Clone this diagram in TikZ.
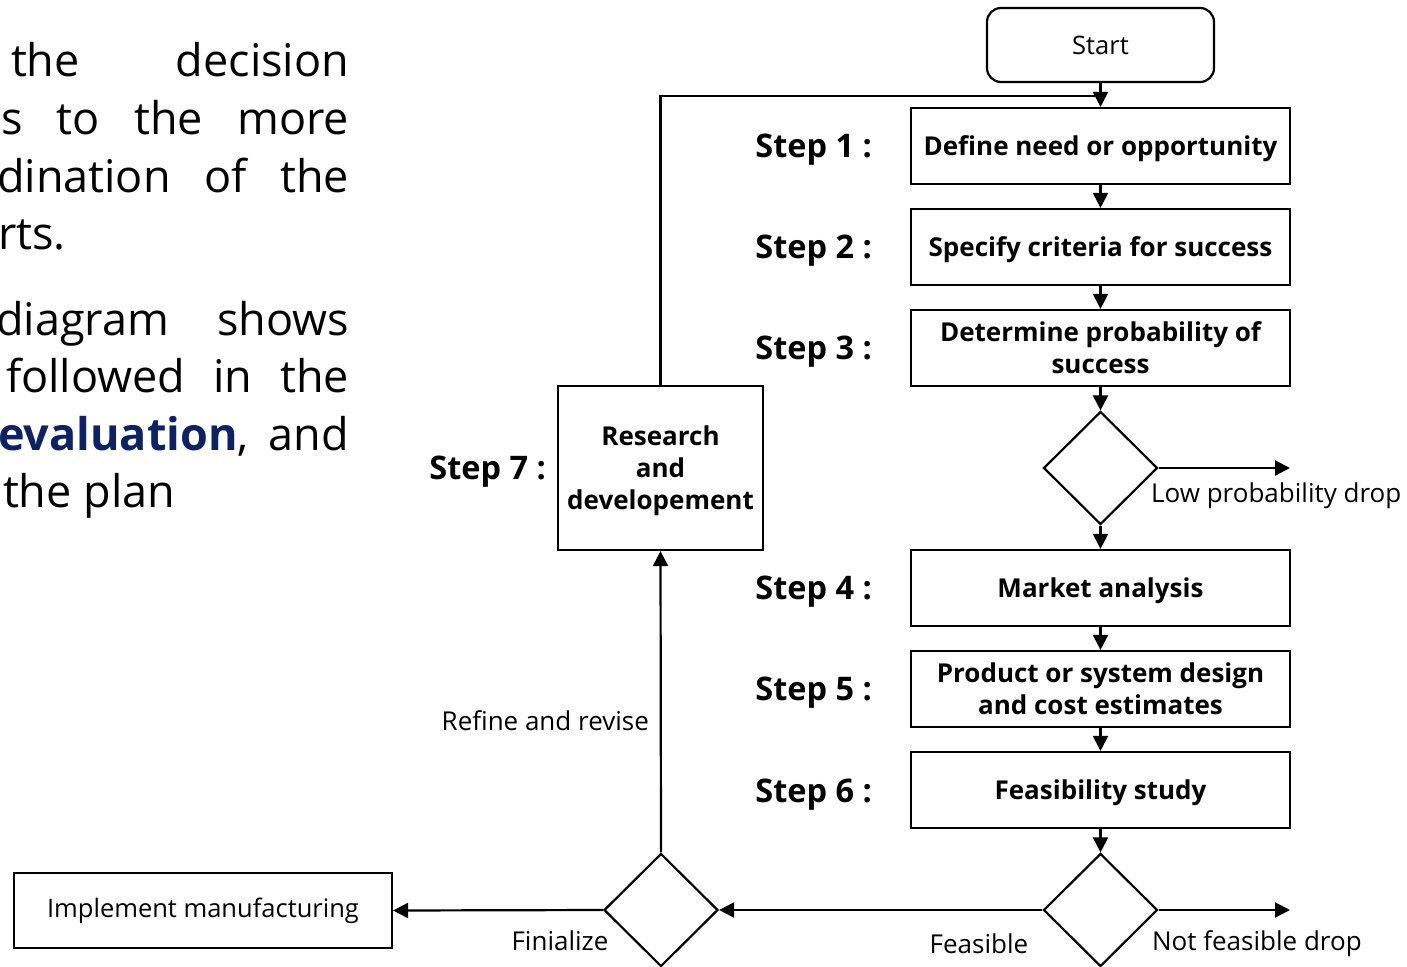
\documentclass[tikz,border=0pt]{standalone}
\usepackage{fontspec}
\setmainfont{Open Sans}
\usetikzlibrary{shapes.geometric,arrows.meta}
\definecolor{navy}{RGB}{14,34,98}
\begin{document}
\begin{tikzpicture}[x=1pt,y=-1pt,
  line width=2.2pt,
  arr/.style={-{Triangle[length=15pt,width=15pt]}},
  stepbox/.style={draw,minimum width=379pt,minimum height=76pt,inner sep=0pt,
    text depth=0pt,align=center,font=\bfseries\fontsize{26}{32}\selectfont},
  startbox/.style={draw,rounded corners=14pt,minimum width=227pt,minimum height=74pt,
    inner sep=0pt,font=\fontsize{25.5}{30}\selectfont},
  decision/.style={draw,diamond,minimum width=114pt,minimum height=113pt,inner sep=0pt},
  steplabel/.style={anchor=east,inner sep=0pt,yshift=-3pt,
    font=\bfseries\fontsize{32.5}{38}\selectfont},
  edgelabel/.style={inner sep=0pt,font=\fontsize{26}{30}\selectfont},
  bodyline/.style={anchor=base west,inner sep=0pt,font=\fontsize{45}{57}\selectfont}]
\useasboundingbox (0,0) rectangle (1407,966);
\clip (0,0) rectangle (1407,966);

% body text beside the chart
\node[bodyline] (t1) at (10,77)    {\makebox[338pt][s]{the decision}};
\node[bodyline] (t2) at (0,134.5)  {\makebox[348pt][s]{s to the more}};
\node[bodyline] (t3) at (-4,192)   {\makebox[352pt][s]{dination of the}};
\node[bodyline] (t4) at (-3,249.5) {rts.};
\node[bodyline] (t5) at (-5,335)   {\makebox[353pt][s]{diagram shows}};
\node[bodyline] (t6) at (5,392.5)  {\makebox[343pt][s]{followed in the}};
\node[bodyline] (t7) at (-3,450)   {\makebox[351pt][s]{\textcolor{navy}{\bfseries evaluation}, and}};
\node[bodyline] (t8) at (2,507.5)  {the plan};

% main column
\node[startbox] (start) at (1100.5,45) {Start};
\node[stepbox] (s1) at (1100.5,146) {Define need or opportunity};
\node[stepbox] (s2) at (1100.5,247) {Specify criteria for success};
\node[stepbox] (s3) at (1100.5,348) {Determine probability of\\success};
\node[decision] (d1) at (1100.5,468) {};
\node[stepbox] (s4) at (1100.5,588) {Market analysis};
\node[stepbox] (s5) at (1100.5,689) {Product or system design\\and cost estimates};
\node[stepbox] (s6) at (1100.5,790) {Feasibility study};
\node[decision] (d2) at (1100.5,910) {};
\node[decision] (d3) at (661,910) {};
\node[stepbox,minimum width=205pt,minimum height=164pt] (rd) at (660.5,468)
  {Research\\and\\developement};
\node[draw,minimum width=378pt,minimum height=75pt,inner sep=0pt,
  font=\fontsize{25.5}{30}\selectfont] (impl) at (203,910.5) {Implement manufacturing};

% step labels
\node[steplabel] (l1) at (873,147) {Step 1 :};
\node[steplabel] (l2) at (873,248) {Step 2 :};
\node[steplabel] (l3) at (873,349) {Step 3 :};
\node[steplabel] (l4) at (873,589) {Step 4 :};
\node[steplabel] (l5) at (873,690) {Step 5 :};
\node[steplabel] (l6) at (873,792) {Step 6 :};
\node[steplabel] (l7) at (547,469) {Step 7 :};

% connectors
\coordinate (jn) at (1100.5,96);
\coordinate (lowend) at (1290,468);
\coordinate (nfend) at (1290,910);
\draw[arr] (start) -- (s1);
\draw (rd.north) |- (jn);
\draw[arr] (s1) -- (s2);
\draw[arr] (s2) -- (s3);
\draw[arr] (s3) -- (d1);
\draw[arr] (d1.east) -- (lowend);
\draw[arr] (d1) -- (s4);
\draw[arr] (s4) -- (s5);
\draw[arr] (s5) -- (s6);
\draw[arr] (s6) -- (d2);
\draw[arr] (d2.east) -- (nfend);
\draw[arr] (d2.west) -- (d3.east);
\draw[arr] (d3.west) -- (impl.east);
\draw[arr] (d3.north) -- (rd.south);

% connector labels
\node[edgelabel,anchor=west] (lowlab) at (1150,496) {Low probability drop};
\node[edgelabel,anchor=west] (nflab) at (1151,944) {Not feasible drop};
\node[edgelabel] (flab) at (979,944) {Feasible};
\node[edgelabel] (finlab) at (560,941) {Finialize};
\node[edgelabel,anchor=east] (reflab) at (650,721) {Refine and revise};
\end{tikzpicture}
\end{document}
